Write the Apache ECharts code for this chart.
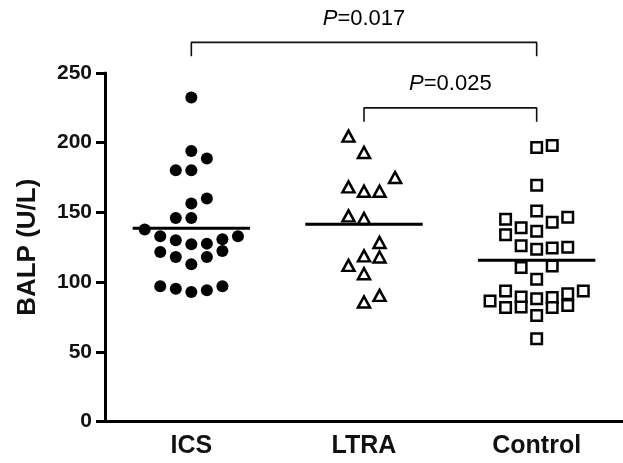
<!DOCTYPE html>
<html>
<head>
<meta charset="utf-8">
<script src="https://cdn.jsdelivr.net/npm/echarts@6/dist/echarts.min.js"></script>
<style>html,body{margin:0;padding:0;background:#fff}#c{width:623px;height:463px}</style>
</head>
<body>
<div id="c"></div>
<script>
// ---- data ----
const categories = ['ICS', 'LTRA', 'Control'];
const yTicks = [0, 50, 100, 150, 200, 250];

// BALP values (U/L) and beeswarm column index (horizontal spread within group)
const icsValues = [232.5, 194, 188.7, 180.3, 180.3, 160, 156.4, 146, 146, 137.7, 132.9, 130, 127.2, 127.6, 130.7, 132.9, 121.6, 118, 112.8, 118, 122.3, 97, 95.3, 92.9, 94.1, 97];
const icsColumns = [0, 0, 1, -1, 0, 1, 0, -1, 0, -3, -2, -1, 0, 1, 2, 3, -2, -1, 0, 1, 2, -2, -1, 0, 1, 2];

const ltraValues = [204.7, 193, 175, 168.3, 165.2, 165.2, 147.5, 145.6, 128.4, 118.8, 118, 112, 106, 85.7, 90.5];
const ltraColumns = [-1, 0, 2, -1, 0, 1, -1, 0, 1, 0, 1, -1, 0, 0, 1];

const controlValues = [196.5, 198, 169.5, 151, 145, 146.5, 143, 139, 136.5, 134, 126, 123.5, 124.5, 125, 110.5, 111.5, 102, 93.6, 93.6, 91.7, 86.4, 89.3, 88.1, 88.9, 81.7, 82.1, 81.7, 83.3, 76.1, 59.4];
const controlColumns = [0, 1, 0, 0, -2, 2, 1, -1, 0, -2, -1, 0, 1, 2, -1, 1, 0, -2, 3, 2, -3, -1, 0, 1, -2, -1, 1, 2, 0, 0];

const groupMeans = [138.6, 141.5, 115.6];

// significance annotations
const comparisons = [
  { from: 0, to: 2, level: 272, drop: 10, label: '0.017' },
  { from: 1, to: 2, level: 225, drop: 10, label: '0.025' }
];
const labelLevels = [289, 242.5];

// ---- build ----
const colStep = 0.09;      // horizontal spread per beeswarm column (category units)
const meanHalf = 0.34;     // half-width of mean line (category units)

function pts(vals, cols, gi) {
  return vals.map((v, k) => [gi + cols[k] * colStep, v]);
}

const series = [];
series.push({
  type: 'scatter', xAxisIndex: 1, data: pts(icsValues, icsColumns, 0),
  symbol: 'circle', symbolSize: 12, itemStyle: { color: '#000', opacity: 1 }, z: 3
});
series.push({
  type: 'scatter', xAxisIndex: 1, data: pts(ltraValues, ltraColumns, 1),
  symbol: 'triangle', symbolSize: [12, 11],
  itemStyle: { color: '#fff', borderColor: '#000', borderWidth: 2.5, opacity: 1 }, z: 3
});
series.push({
  type: 'scatter', xAxisIndex: 1, data: pts(controlValues, controlColumns, 2),
  symbol: 'rect', symbolSize: 10.5,
  itemStyle: { color: '#fff', borderColor: '#000', borderWidth: 2.5, opacity: 1 }, z: 3
});
groupMeans.forEach((m, i) => {
  series.push({
    type: 'line', xAxisIndex: 1, data: [[i - meanHalf, m], [i + meanHalf, m]],
    symbol: 'none', lineStyle: { color: '#000', width: 3 }, z: 4, silent: true
  });
});
comparisons.forEach((c, k) => {
  series.push({
    type: 'line', xAxisIndex: 1, clip: false, symbol: 'none', silent: true,
    data: [[c.from, c.level - c.drop], [c.from, c.level], [c.to, c.level], [c.to, c.level - c.drop]],
    lineStyle: { color: '#111', width: 1.6 }
  });
  series.push({
    type: 'scatter', xAxisIndex: 1, clip: false, symbolSize: 0, silent: true,
    itemStyle: { opacity: 1 },
    data: [[(c.from + c.to) / 2, labelLevels[k]]],
    label: {
      show: true, position: 'inside', formatter: '{i|P}=' + c.label,
      color: '#000', fontFamily: 'Liberation Sans', fontSize: 22,
      rich: { i: { fontStyle: 'italic', fontFamily: 'Liberation Sans', fontSize: 22, color: '#000' } }
    }
  });
});

const chart = echarts.init(document.getElementById('c'), null, { renderer: 'canvas' });
chart.setOption({
  animation: false,
  backgroundColor: '#fff',
  grid: { left: 105, top: 73, width: 520, height: 348.5, containLabel: false },
  xAxis: [
    {
      type: 'category', data: categories, boundaryGap: true,
      axisLine: { onZero: false, lineStyle: { color: '#000', width: 3 } },
      axisTick: { alignWithLabel: true, length: 8, lineStyle: { color: '#000', width: 3 } },
      axisLabel: { color: '#111', fontFamily: 'Liberation Sans', fontWeight: 'bold', fontSize: 25, margin: 12 },
      splitLine: { show: false }
    },
    { type: 'value', min: -0.5, max: 2.5, show: false }
  ],
  yAxis: {
    type: 'value', min: yTicks[0], max: yTicks[yTicks.length - 1], interval: 50,
    name: 'BALP (U/L)', nameLocation: 'middle', nameGap: 64, nameRotate: 90,
    nameTextStyle: { color: '#111', fontFamily: 'Liberation Sans', fontWeight: 'bold', fontSize: 26 },
    axisLine: { show: true, onZero: false, lineStyle: { color: '#000', width: 3 } },
    axisTick: { show: true, length: 9, lineStyle: { color: '#000', width: 3 } },
    axisLabel: { color: '#111', fontFamily: 'Liberation Sans', fontWeight: 'bold', fontSize: 21, margin: 13 },
    splitLine: { show: false }
  },
  series: series
});
</script>
</body>
</html>
